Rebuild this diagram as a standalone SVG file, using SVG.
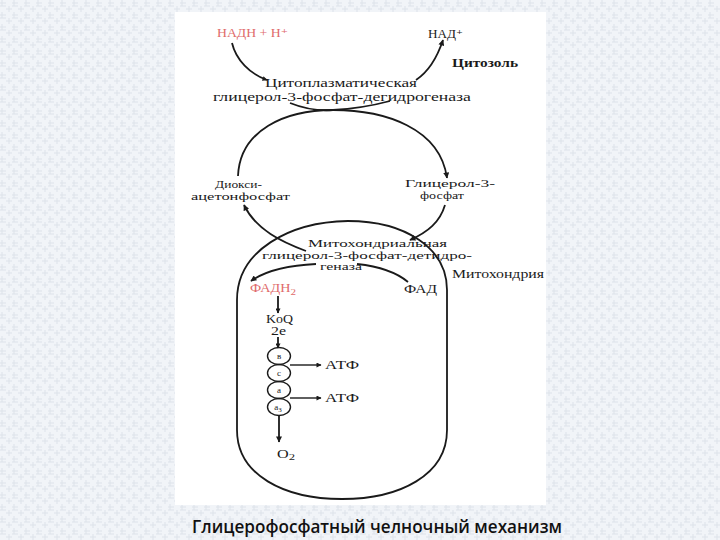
<svg xmlns="http://www.w3.org/2000/svg" width="720" height="540" viewBox="0 0 720 540">
<defs>
<pattern id="bgp" width="12" height="12" patternUnits="userSpaceOnUse">
<rect width="12" height="12" fill="#f1f4f8"/>
<path d="M0 3H6M0 6H6M6 9H12M2 0V6M9 6V12" stroke="#dde3ea" stroke-width="1"/>
</pattern>
<marker id="ah" viewBox="0 0 10 10" refX="9" refY="5" markerWidth="7" markerHeight="6" orient="auto" markerUnits="userSpaceOnUse">
<path d="M0 0L10 5L0 10Z" fill="#1a1a1a"/>
</marker>
<marker id="ahs" viewBox="0 0 10 10" refX="9" refY="5" markerWidth="6" markerHeight="5" orient="auto" markerUnits="userSpaceOnUse">
<path d="M0 0L10 5L0 10Z" fill="#1a1a1a"/>
</marker>
</defs>
<style>
.t{font-family:"Liberation Serif","DejaVu Serif",serif;font-size:11.5px;fill:#1a1a1a}
.m{font-size:10.5px}
.b{font-weight:bold}
.r{fill:#e06a6a}
.s{font-size:9px}
.ln{fill:none;stroke:#1a1a1a;stroke-width:1.8}
.th{fill:none;stroke:#1a1a1a;stroke-width:1.4}
.cap{font-family:"Open Sans","Noto Sans","Liberation Sans",sans-serif;font-size:18px;font-weight:600;fill:#111}
</style>
<rect width="720" height="540" fill="url(#bgp)"/>
<rect x="175" y="12" width="371" height="493" fill="#ffffff"/>

<g id="connectors">
<path class="ln" d="M232,43 C236,60 250,74 267,80" marker-end="url(#ahs)"/>
<path class="ln" d="M290,103 C305,109 320,111 333,110 C352,109 375,105 390,101"/>
<path class="ln" d="M416,80 C428,72 437,58 443,40" marker-end="url(#ah)"/>
<path class="ln" d="M238,176 C240,130 285,110 333,110 C385,110 440,128 447,178" marker-end="url(#ah)"/>
<path class="ln" d="M445,205 C440,222 428,232 410,240" marker-end="url(#ah)"/>
<path class="ln" d="M306,251 C282,242 256,230 244,205" marker-end="url(#ah)"/>
<path class="ln" d="M316,264 C295,265 268,269 251,281" marker-end="url(#ah)"/>
<path class="ln" d="M408,282 C395,271 375,266 357,264"/>
<path class="ln" d="M278,296 V313" marker-end="url(#ahs)"/>
<path class="ln" d="M278,337 V348" marker-end="url(#ahs)"/>
<path class="th" d="M290,365 H321" marker-end="url(#ahs)"/>
<path class="th" d="M290,398 H321" marker-end="url(#ahs)"/>
<path class="ln" d="M279,416 V442" marker-end="url(#ah)"/>
</g>

<g id="mitochondrion">
<path class="ln" d="M237,300 C237,250 290,222 348,221 C405,221 447,248 447,290 L447,430 C447,475 400,499 342,499 C284,499 237,475 237,430 Z"/>
</g>

<g id="nadh"><text class="t r" x="217" y="37" textLength="71" lengthAdjust="spacingAndGlyphs">НАДН + Н⁺</text></g>
<g id="nad"><text class="t" x="428" y="38" textLength="35" lengthAdjust="spacingAndGlyphs">НАД⁺</text></g>
<g id="cytosol"><text class="t b" x="452" y="67" textLength="66" lengthAdjust="spacingAndGlyphs">Цитозоль</text></g>
<g id="cyto-enzyme">
<text class="t" x="265" y="87" textLength="152" lengthAdjust="spacingAndGlyphs">Цитоплазматическая</text>
<text class="t" x="213" y="101" textLength="258" lengthAdjust="spacingAndGlyphs">глицерол-3-фосфат-дегидрогеназа</text>
</g>
<g id="dhap">
<text class="t m" x="215" y="188" textLength="47" lengthAdjust="spacingAndGlyphs">Диокси-</text>
<text class="t m" x="191" y="200" textLength="99" lengthAdjust="spacingAndGlyphs">ацетонфосфат</text>
</g>
<g id="g3p">
<text class="t m" x="405" y="187" textLength="90" lengthAdjust="spacingAndGlyphs">Глицерол-3-</text>
<text class="t m" x="420" y="199" textLength="44" lengthAdjust="spacingAndGlyphs">фосфат</text>
</g>
<g id="mito-enzyme">
<text class="t m" x="308" y="247" textLength="139" lengthAdjust="spacingAndGlyphs">Митохондриальная</text>
<text class="t m" x="262" y="258.5" textLength="210" lengthAdjust="spacingAndGlyphs">глицерол-3-фосфат-детидро-</text>
<text class="t m" x="320" y="270" textLength="42" lengthAdjust="spacingAndGlyphs">геназа</text>
</g>
<g id="mito-label"><text class="t" x="452" y="278" textLength="92" lengthAdjust="spacingAndGlyphs">Митохондрия</text></g>
<g id="fadh2"><text class="t r" x="250" y="292" textLength="46" lengthAdjust="spacingAndGlyphs">ФАДН<tspan class="s" dy="3">2</tspan></text></g>
<g id="fad"><text class="t" x="404" y="293" textLength="33" lengthAdjust="spacingAndGlyphs">ФАД</text></g>
<g id="koq">
<text class="t" x="266" y="323" textLength="27" lengthAdjust="spacingAndGlyphs">KoQ</text>
<text class="t" x="271" y="335" textLength="15" lengthAdjust="spacingAndGlyphs">2e</text>
</g>
<g id="cyt-b"><ellipse class="th" cx="279" cy="356" rx="11.5" ry="8.5"/><text class="t s" x="279" y="359" text-anchor="middle">в</text></g>
<g id="cyt-c"><ellipse class="th" cx="279" cy="373" rx="11.5" ry="8.5"/><text class="t s" x="279" y="376" text-anchor="middle">с</text></g>
<g id="cyt-a"><ellipse class="th" cx="279" cy="390" rx="11.5" ry="8.5"/><text class="t s" x="279" y="393" text-anchor="middle">а</text></g>
<g id="cyt-a3"><ellipse class="th" cx="279" cy="407" rx="11.5" ry="8.5"/><text class="t s" x="278" y="410" text-anchor="middle">а<tspan font-size="7" dy="2">3</tspan></text></g>
<g id="atp1"><text class="t" x="325" y="369" textLength="34" lengthAdjust="spacingAndGlyphs">АТФ</text></g>
<g id="atp2"><text class="t" x="325" y="402" textLength="34" lengthAdjust="spacingAndGlyphs">АТФ</text></g>
<g id="o2"><text class="t" x="277" y="458" textLength="18" lengthAdjust="spacingAndGlyphs">O<tspan class="s" dy="2">2</tspan></text></g>

<text class="cap" x="192" y="533" textLength="370" lengthAdjust="spacingAndGlyphs">Глицерофосфатный челночный механизм</text>
</svg>
